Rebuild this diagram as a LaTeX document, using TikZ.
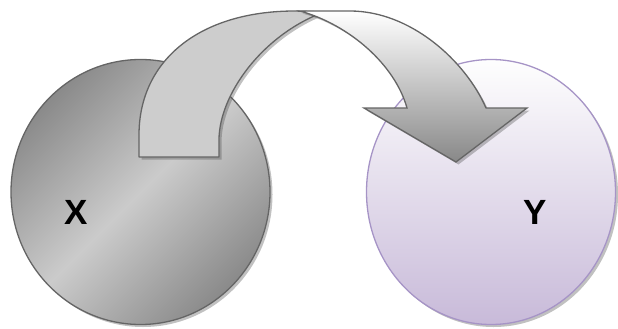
\documentclass[tikz,border=0pt]{standalone}
\usepackage{fontspec}
\setmainfont{Liberation Sans}
\usetikzlibrary{shadows,shapes.geometric}
\definecolor{edgegray}{HTML}{656565}
\definecolor{lgdark}{HTML}{8A8A8A}
\definecolor{lglight}{HTML}{CBCBCB}
\definecolor{rtop}{HTML}{FEFEFE}
\definecolor{rbot}{HTML}{C8BAD9}
\definecolor{redge}{HTML}{A694C6}
\definecolor{tailfill}{HTML}{CDCDCD}
\definecolor{headbot}{HTML}{888888}
\begin{document}
\begin{tikzpicture}[x=1pt,y=-1pt,
  shadowed/.style={drop shadow={shadow xshift=2.5pt,shadow yshift=-2.5pt,opacity=0.35,fill=black!70}},
  leftball/.style={ellipse,inner sep=0pt,draw=edgegray,line width=1.3pt,shading=axis,
    top color=lgdark,bottom color=lgdark,middle color=lglight,shading angle=45},
  rightball/.style={ellipse,inner sep=0pt,draw=redge,line width=1.3pt,shading=axis,
    top color=rtop,bottom color=rbot},
  tailband/.style={draw=edgegray,line width=1.3pt,fill=tailfill,line join=round},
  headband/.style={draw=edgegray,line width=1.3pt,line join=miter,shading=axis,
    top color=white,bottom color=headbot},
  label/.style={font=\fontsize{35}{35}\selectfont\bfseries,text=black,inner sep=0pt}
]
\useasboundingbox (0,0) rectangle (618,329);
\node[leftball,shadowed,minimum width=259pt,minimum height=265pt] (cx) at (140.5,192) {};
\node[rightball,shadowed,minimum width=249pt,minimum height=265pt] (cy) at (491,192) {};
\node[label] (lx) at (76,212) {X};
\node[label] (ly) at (535,212) {Y};
% curved arrow: rising tail band
\path[tailband,shadowed] (139,157) -- (139,135)
  .. controls (139,60) and (200,11) .. (295,11) -- (324,12)
  .. controls (262,35) and (219,95) .. (219,140) -- (219,157) -- cycle;
% curved arrow: descending band with head
\path[headband,shadowed] (300,11) -- (350,11)
  .. controls (410,11) and (465,60) .. (486,108) -- (527,108) -- (456,162)
  -- (364,108) -- (407,108)
  .. controls (395,65) and (350,25) .. (300,11) -- cycle;
\end{tikzpicture}
\end{document}
